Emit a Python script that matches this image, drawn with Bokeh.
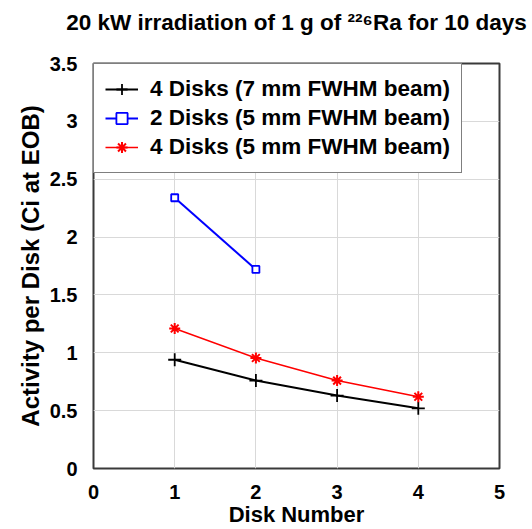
from bokeh.plotting import figure
from bokeh.models import Range1d, Legend, LegendItem, FixedTicker, Title
from bokeh.embed import file_html
from bokeh.resources import INLINE

title_text = "20 kW irradiation of 1 g of \u00b2\u00b2\u2076Ra for 10 days"
x_label = "Disk Number"
y_label = "Activity per Disk (Ci at EOB)"

disks_a = [1, 2, 3, 4]
act_a = [0.94, 0.76, 0.63, 0.52]       # 4 Disks (7 mm FWHM beam)
disks_b = [1, 2]
act_b = [2.34, 1.72]                   # 2 Disks (5 mm FWHM beam)
disks_c = [1, 2, 3, 4]
act_c = [1.21, 0.955, 0.76, 0.62]      # 4 Disks (5 mm FWHM beam)

names = ["4 Disks (7 mm FWHM beam)", "2 Disks (5 mm FWHM beam)", "4 Disks (5 mm FWHM beam)"]
x_ticks = [0, 1, 2, 3, 4, 5]
y_ticks = [0, 0.5, 1, 1.5, 2, 2.5, 3, 3.5]
y_tick_labels = {0: "0", 0.5: "0.5", 1: "1", 1.5: "1.5", 2: "2", 2.5: "2.5", 3: "3", 3.5: "3.5"}

FONT = "Liberation Sans"

p = figure(width=532, height=529, output_backend="svg", toolbar_location=None,
           x_range=Range1d(0, 5), y_range=Range1d(0, 3.5),
           min_border_left=93, min_border_right=33, min_border_top=63, min_border_bottom=60)
p.title = None

# spacer between the frame and the title (nearest to the frame)
p.add_layout(Title(text=" ", text_font_size="10px", standoff=16), "above")
p.add_layout(Title(text=title_text, text_font=FONT, text_font_size="22.5px",
                   text_font_style="bold", align="center", text_color="black",
                   standoff=0), "above")

p.outline_line_color = "#3a3a3a"
p.outline_line_width = 2
p.background_fill_color = "white"
p.border_fill_color = "white"

for ax in (p.xaxis[0], p.yaxis[0]):
    ax.axis_line_color = None
    ax.major_tick_line_color = None
    ax.minor_tick_line_color = None
    ax.major_label_text_font = FONT
    ax.major_label_text_font_size = "20px"
    ax.major_label_text_font_style = "bold"
    ax.major_label_text_color = "black"
    ax.axis_label_text_font = FONT
    ax.axis_label_text_font_size = "22px"
    ax.axis_label_text_font_style = "bold"
    ax.axis_label_text_color = "black"

p.xaxis.ticker = FixedTicker(ticks=x_ticks)
p.yaxis.ticker = FixedTicker(ticks=y_ticks)
p.yaxis.major_label_overrides = y_tick_labels
p.xaxis.major_label_standoff = 10
p.yaxis.major_label_standoff = 10
p.yaxis.axis_label = y_label
p.yaxis.axis_label_text_font_size = "24px"
p.yaxis.axis_label_standoff = 3
p.xaxis.axis_label = x_label
p.xaxis.axis_label_standoff = 0

p.xgrid.grid_line_color = "#d9d9d9"
p.ygrid.grid_line_color = "#d9d9d9"
p.xgrid.grid_line_width = 1
p.ygrid.grid_line_width = 1

la = p.line(disks_a, act_a, line_color="black", line_width=2)
ma = p.scatter(disks_a, act_a, marker="cross", size=13, line_color="black", line_width=1.8)
lb = p.line(disks_b, act_b, line_color="blue", line_width=2)
mb = p.scatter(disks_b, act_b, marker="square", size=7, line_color="blue", fill_color="white", line_width=1.8)
lc = p.line(disks_c, act_c, line_color="red", line_width=1.5)
mc = p.scatter(disks_c, act_c, marker="asterisk", size=11, line_color="red", line_width=2)

legend = Legend(items=[LegendItem(label=names[0], renderers=[la, ma]),
                       LegendItem(label=names[1], renderers=[lb, mb]),
                       LegendItem(label=names[2], renderers=[lc, mc])],
                location="top_left", margin=0, padding=11, spacing=1,
                label_height=28, glyph_height=28, glyph_width=33, label_standoff=12,
                label_text_font=FONT, label_text_font_size="22.5px", label_text_font_style="bold",
                label_text_color="black",
                border_line_color="black", border_line_width=1,
                background_fill_color="white", background_fill_alpha=1.0)
p.add_layout(legend, "center")

open("out.html", "w").write(file_html(p, INLINE))
